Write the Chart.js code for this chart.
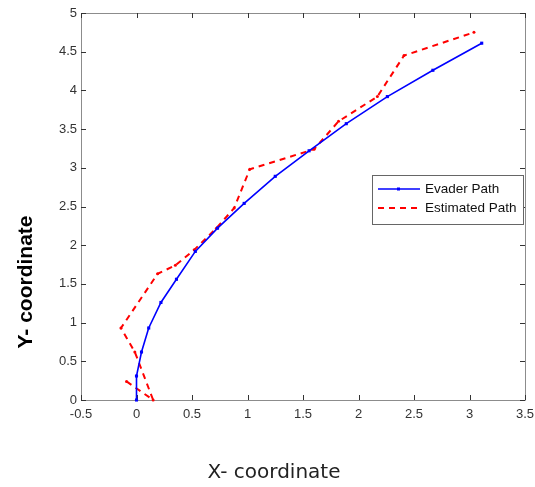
<!DOCTYPE html>
<html>
<head>
<meta charset="utf-8">
<script src="https://cdn.jsdelivr.net/npm/chart.js@4/dist/chart.umd.min.js"></script>
<style>
  html, body { margin: 0; padding: 0; background: #fff; }
  #wrap { width: 535px; height: 487px; }
</style>
</head>
<body>
<div id="wrap"><canvas id="graphique"></canvas></div>
<script>
// Chemin réel (bleu)
const evaderX = [0, 0, 0.045, 0.11, 0.22, 0.36, 0.53, 0.73, 0.97, 1.25, 1.555, 1.89, 2.26, 2.67, 3.11];
const evaderY = [0, 0.31, 0.62, 0.93, 1.26, 1.56, 1.92, 2.22, 2.54, 2.89, 3.22, 3.57, 3.92, 4.26, 4.61];

// Chemin estimé (rouge)
const estimX = [-0.09, 0.15, -0.015, -0.14, 0.19, 0.35, 0.52, 0.72, 0.88, 1.02, 1.6, 1.82, 2.17, 2.41, 3.04];
const estimY = [0.24, 0, 0.62, 0.93, 1.63, 1.74, 1.94, 2.22, 2.48, 2.98, 3.24, 3.6, 3.92, 4.45, 4.75];

const seriesLabels = ["Evader Path", "Estimated Path"];
const xTitle = "X- coordinate";
const yTitle = "Y- coordinate";

function toPoints(xs, ys) {
    return xs.map((x, i) => ({ x: x, y: ys[i] }));
}

// cadre + petites graduations vers l'intérieur (style matlab)
const cadre = {
    id: "cadre",
    beforeDatasetsDraw(chart) {
        const ctx = chart.ctx;
        const a = chart.chartArea;
        const sx = chart.scales.x, sy = chart.scales.y;
        ctx.save();
        ctx.strokeStyle = "#8c8c8c";
        ctx.lineWidth = 1;
        ctx.beginPath();
        ctx.rect(Math.round(a.left) + 0.5, Math.round(a.top) + 0.5,
                 Math.round(a.right - a.left), Math.round(a.bottom - a.top));
        ctx.stroke();
        ctx.strokeStyle = "#333";
        ctx.beginPath();
        sx.ticks.forEach(t => {
            const px = Math.round(sx.getPixelForValue(t.value)) + 0.5;
            ctx.moveTo(px, a.bottom); ctx.lineTo(px, a.bottom - 5);
            ctx.moveTo(px, a.top); ctx.lineTo(px, a.top + 5);
        });
        sy.ticks.forEach(t => {
            const py = Math.round(sy.getPixelForValue(t.value)) + 0.5;
            ctx.moveTo(a.left, py); ctx.lineTo(a.left + 5, py);
            ctx.moveTo(a.right, py); ctx.lineTo(a.right - 5, py);
        });
        ctx.stroke();
        ctx.restore();
    },
    afterDraw(chart) {
        const ctx = chart.ctx;
        ctx.save();
        // titres des axes
        ctx.fillStyle = "#222";
        ctx.textAlign = "center";
        ctx.textBaseline = "middle";
        ctx.font = "20px 'DejaVu Sans'";
        ctx.fillText(xTitle, 274, 473);
        ctx.translate(26, 282);
        ctx.rotate(-Math.PI / 2);
        ctx.font = "bold 21px 'Liberation Sans'";
        ctx.fillStyle = "#000";
        ctx.fillText(yTitle, 0, 0);
        ctx.restore();

        // légende
        ctx.save();
        const lx = 372, ly = 175, lw = 151, lh = 49;
        ctx.fillStyle = "#fff";
        ctx.fillRect(lx, ly, lw, lh);
        ctx.strokeStyle = "#666";
        ctx.lineWidth = 1;
        ctx.strokeRect(lx + 0.5, ly + 0.5, lw, lh);
        chart.data.datasets.forEach((ds, i) => {
            const y = ly + 14 + i * 19;
            ctx.strokeStyle = ds.borderColor;
            ctx.lineWidth = ds.borderWidth;
            ctx.setLineDash(ds.borderDash || []);
            ctx.beginPath();
            ctx.moveTo(378, y); ctx.lineTo(420, y);
            ctx.stroke();
            ctx.setLineDash([]);
            if (i === 0) {
                ctx.fillStyle = ds.borderColor;
                ctx.fillRect(397, y - 1.5, 3, 3);
            }
            ctx.fillStyle = "#111";
            ctx.font = "13.5px 'Liberation Sans'";
            ctx.textAlign = "left";
            ctx.textBaseline = "middle";
            ctx.fillText(ds.label, 425, y + 0.5);
        });
        ctx.restore();
    }
};

const data = {
    datasets: [
        {
            label: seriesLabels[0],
            data: toPoints(evaderX, evaderY),
            showLine: true,
            borderColor: "#0000ff",
            backgroundColor: "#0000ff",
            borderWidth: 1.6,
            pointStyle: "rect",
            pointRadius: 2.2,
            pointBorderWidth: 0,
            clip: false,
        },
        {
            label: seriesLabels[1],
            data: toPoints(estimX, estimY),
            showLine: true,
            borderColor: "#ff0000",
            backgroundColor: "#ff0000",
            borderWidth: 2,
            borderDash: [6, 5],
            pointRadius: 1.5,
            pointBorderWidth: 0,
            clip: false,
        },
    ],
};

const tickFont = { family: "'Liberation Sans'", size: 13 };

const config = {
    type: "scatter",
    data: data,
    options: {
        responsive: true,
        maintainAspectRatio: false,
        animation: false,
        layout: { padding: { top: 13, right: 10, left: 0, bottom: 0 } },
        plugins: {
            legend: { display: false },
            tooltip: { enabled: false },
        },
        scales: {
            x: {
                type: "linear",
                min: -0.5,
                max: 3.5,
                ticks: { stepSize: 0.5, padding: 7, color: "#333", font: tickFont, maxRotation: 0,
                         callback: v => String(v) },
                grid: { display: false, drawTicks: false },
                border: { display: false },
                afterFit(scale) { scale.height = 87; scale.paddingLeft = 0; scale.paddingRight = 0; },
            },
            y: {
                type: "linear",
                min: 0,
                max: 5,
                ticks: { stepSize: 0.5, padding: 4, color: "#333", font: tickFont,
                         callback: v => String(v) },
                grid: { display: false, drawTicks: false },
                border: { display: false },
                afterFit(scale) { scale.width = 81; scale.paddingTop = 0; scale.paddingBottom = 0; },
            },
        },
    },
    plugins: [cadre],
};

new Chart(document.querySelector("#graphique"), config);
</script>
</body>
</html>
